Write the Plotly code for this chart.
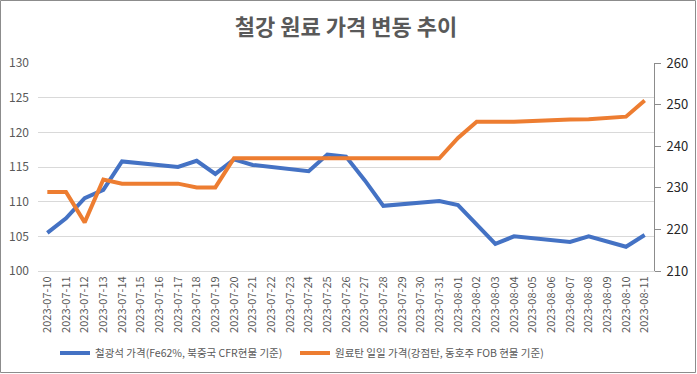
import plotly.graph_objects as go

dates = ["2023-07-10","2023-07-11","2023-07-12","2023-07-13","2023-07-14","2023-07-15","2023-07-16",
         "2023-07-17","2023-07-18","2023-07-19","2023-07-20","2023-07-21","2023-07-22","2023-07-23",
         "2023-07-24","2023-07-25","2023-07-26","2023-07-27","2023-07-28","2023-07-29","2023-07-30",
         "2023-07-31","2023-08-01","2023-08-02","2023-08-03","2023-08-04","2023-08-05","2023-08-06",
         "2023-08-07","2023-08-08","2023-08-09","2023-08-10","2023-08-11"]

iron_ore = [105.5, 107.6, 110.5, 111.7, 115.8, None, None,
            115.0, 115.9, 114.0, 116.1, 115.3, None, None,
            114.4, 116.8, 116.5, 113.1, 109.4, None, None,
            110.1, 109.5, 106.7, 103.9, 105.0, None, None,
            104.2, 105.0, None, 103.5, 105.2]

coking_coal = [229.0, 229.0, 221.7, 232.0, 231.0, None, None,
               231.0, 230.1, 230.1, 237.1, 237.1, None, None,
               237.1, 237.1, 237.1, 237.1, 237.1, None, None,
               237.1, 242.0, 245.9, 245.9, 245.9, None, None,
               246.4, 246.5, None, 247.1, 251.0]

name_iron = "철광석 가격(Fe62%, 북중국 CFR현물 기준)"
name_coal = "원료탄 일일 가격(강점탄, 동호주 FOB 현물 기준)"
left_ticks = [100, 105, 110, 115, 120, 125, 130]
right_ticks = [210, 220, 230, 240, 250, 260]

FONT = "Noto Sans CJK KR"
GRAY = "#595959"

fig = go.Figure()
fig.add_trace(go.Scatter(x=dates, y=iron_ore, name=name_iron, mode="lines",
                         line=dict(color="#4472C4", width=4), connectgaps=True, yaxis="y",
                         legendwidth=195))
fig.add_trace(go.Scatter(x=dates, y=coking_coal, name=name_coal, mode="lines",
                         line=dict(color="#ED7D31", width=4), connectgaps=True, yaxis="y2",
                         legendwidth=240))

W, H = 697, 374
ml, mr, mt, mb = 38, 43, 63, 103
pw = W - ml - mr
ph = H - mt - mb

fig.update_layout(
    width=W, height=H,
    margin=dict(l=ml, r=mr, t=mt, b=mb, pad=0, autoexpand=False),
    paper_bgcolor="white", plot_bgcolor="white",
    font=dict(family=FONT, color=GRAY, size=11),
    title=dict(text="<b>철강 원료 가격 변동 추이</b>", x=0.5, xanchor="center",
               xref="paper", y=1 - 27 / H, yanchor="middle", yref="container",
               font=dict(size=22, color=GRAY, family=FONT)),
    showlegend=True,
    legend=dict(orientation="h", x=(55 - ml) / pw, xanchor="left", xref="paper",
                y=-(353 - (H - mb)) / ph, yanchor="middle", yref="paper",
                font=dict(size=10.5, color=GRAY), itemwidth=30, tracegroupgap=0,
                entrywidthmode="pixels"),
    xaxis=dict(type="category", range=[-0.5, len(dates) - 0.5], tickmode="array",
               tickvals=dates, ticktext=dates, tickangle=-90, showgrid=False,
               showline=True, linecolor="#d9d9d9", linewidth=1, ticks="",
               tickfont=dict(size=11, color=GRAY), zeroline=False, automargin=False),
    yaxis=dict(range=[100, 130], tickvals=left_ticks, showgrid=True, gridcolor="#d9d9d9",
               gridwidth=1, zeroline=False, showline=False, ticks="",
               ticklabelstandoff=8,
               tickfont=dict(size=12, color=GRAY), automargin=False),
    yaxis2=dict(range=[210, 260], tickvals=right_ticks, overlaying="y", side="right",
                showgrid=False, zeroline=False, showline=True, linecolor="#8c8c8c",
                linewidth=1, ticks="outside", ticklen=6, tickcolor="#8c8c8c",
                ticklabelstandoff=3,
                tickfont=dict(size=13, color="#262626"), automargin=False),
)

fig.add_shape(type="rect", xref="paper", yref="paper",
              x0=-(ml - 0.5) / pw, x1=1 + (mr - 1.5) / pw,
              y0=-(mb - 1.5) / ph, y1=1 + (mt - 0.5) / ph,
              line=dict(color="#8c8c8c", width=1), fillcolor="rgba(0,0,0,0)", layer="below")

fig.write_html("out.html", config={"displayModeBar": False},
               post_script="document.body.style.margin='0';document.body.style.overflow='hidden';")
